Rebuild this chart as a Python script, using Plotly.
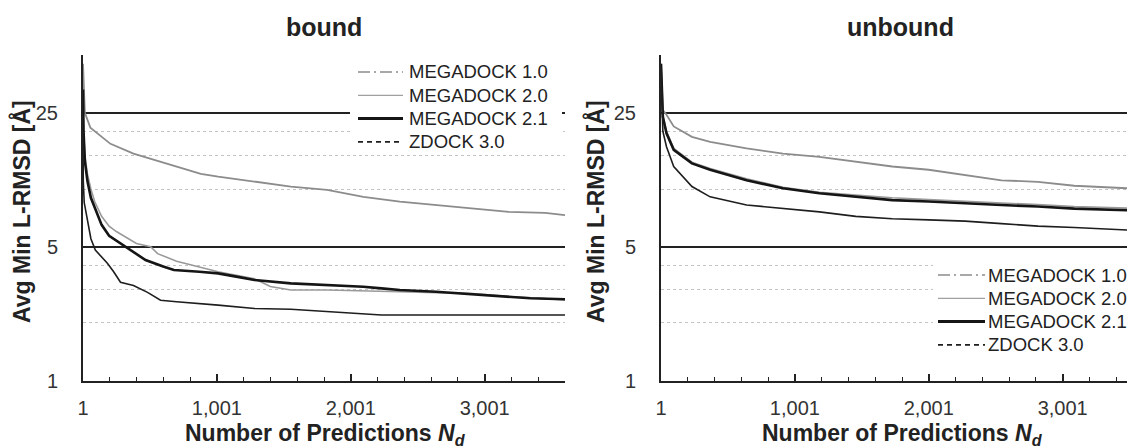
import math
import plotly.graph_objects as go

# ---------------- data ----------------
series_names = ["MEGADOCK 1.0", "MEGADOCK 2.0", "MEGADOCK 2.1", "ZDOCK 3.0"]
x_tick_vals = [1, 1001, 2001, 3001]
x_tick_text = ["1", "1,001", "2,001", "3,001"]
y_tick_vals = [1, 5, 25]
y_tick_text = ["1", "5", "25"]
y_minor_vals = [2, 3, 4, 10, 15, 20, 50]

# bound
b_m10_n = [1, 15, 56, 206, 378, 633, 881, 1010, 1282, 1553, 1824, 2095, 2367, 2638, 2909, 3181, 3452, 3601]
b_m10_v = [45, 25, 20.9, 17.2, 15.3, 13.5, 12.0, 11.6, 10.9, 10.3, 9.9, 9.1, 8.6, 8.25, 7.9, 7.6, 7.5, 7.3]
b_m20_n = [1, 5, 15, 34, 60, 88, 140, 196, 250, 303, 400, 506, 558, 700, 870, 1010, 1146, 1282, 1400, 1553, 1824, 2095, 2367, 2638, 2909, 3181, 3601]
b_m20_v = [32, 20, 15, 12, 10, 8.6, 7.2, 6.4, 6.0, 5.7, 5.2, 5.0, 4.6, 4.2, 3.9, 3.7, 3.55, 3.4, 3.1, 2.97, 2.97, 2.95, 2.91, 2.88, 2.85, 2.75, 2.64]
b_m21_n = [1, 5, 15, 34, 60, 88, 140, 196, 280, 332, 468, 600, 680, 870, 1010, 1146, 1282, 1553, 1824, 2095, 2230, 2367, 2638, 2800, 3045, 3343, 3601]
b_m21_v = [33, 20, 14, 11, 9.0, 8.0, 6.5, 5.7, 5.2, 4.9, 4.26, 3.94, 3.78, 3.7, 3.63, 3.49, 3.35, 3.22, 3.16, 3.09, 3.03, 2.97, 2.91, 2.86, 2.8, 2.69, 2.66]
b_zd_n = [1, 3, 10, 33, 60, 93, 183, 230, 281, 378, 483, 580, 700, 1010, 1282, 1553, 1824, 2095, 2230, 3601]
b_zd_v = [20, 11, 8.5, 6.8, 5.5, 4.8, 4.1, 3.7, 3.26, 3.14, 2.89, 2.63, 2.58, 2.48, 2.38, 2.36, 2.29, 2.24, 2.2, 2.2]

# unbound
u_n = [1, 15, 42, 96, 232, 368, 640, 912, 1184, 1456, 1728, 2000, 2272, 2544, 2816, 3088, 3601]
u_m10_v = [45, 25.8, 24.4, 21.2, 18.7, 17.6, 16.3, 15.3, 14.7, 13.9, 13.1, 12.6, 11.8, 11.1, 10.9, 10.4, 10.0]
u_m20_v = [44, 24, 20, 16.3, 13.8, 12.8, 11.3, 10.2, 9.6, 9.3, 9.0, 8.8, 8.6, 8.45, 8.3, 8.1, 7.9]
u_m21_v = [45, 23.8, 19.5, 16, 13.6, 12.6, 11.1, 10.1, 9.5, 9.1, 8.75, 8.6, 8.4, 8.25, 8.1, 7.9, 7.7]
u_zd_v = [42, 20, 16.6, 13.1, 10.3, 9.1, 8.25, 7.9, 7.6, 7.2, 7.0, 6.9, 6.8, 6.6, 6.4, 6.3, 6.05]

# ---------------- layout helpers ----------------
W, H = 1135, 447
OFF = 8  # page body margin: figure is drawn 8px right/down in the window

def px(x):  # window pixel x -> paper
    return (x - OFF) / W

def py(y):  # window pixel y -> paper
    return 1 - (y - OFF) / H

FONT = "Liberation Sans, Arial, sans-serif"
curve_style = {
    "MEGADOCK 1.0": dict(color="#8c8c8c", width=1.8),
    "MEGADOCK 2.0": dict(color="#9a9a9a", width=1.6),
    "MEGADOCK 2.1": dict(color="#151515", width=2.6),
    "ZDOCK 3.0": dict(color="#1e1e1e", width=1.6),
}
legend_style = {
    "MEGADOCK 1.0": dict(color="#8c8c8c", width=1.6, dash="12px,4px,2px,4px"),
    "MEGADOCK 2.0": dict(color="#a0a0a0", width=1.3),
    "MEGADOCK 2.1": dict(color="#151515", width=3),
    "ZDOCK 3.0": dict(color="#1e1e1e", width=1.6, dash="5px,4px"),
}

fig = go.Figure()
panels = [
    ("x", "y", [(b_m10_n, b_m10_v), (b_m20_n, b_m20_v), (b_m21_n, b_m21_v), (b_zd_n, b_zd_v)]),
    ("x2", "y2", [(u_n, u_m10_v), (u_n, u_m20_v), (u_n, u_m21_v), (u_n, u_zd_v)]),
]
for xa, ya, data in panels:
    for name, (n, v) in zip(series_names, data):
        fig.add_trace(go.Scatter(x=n, y=v, mode="lines", xaxis=xa, yaxis=ya, name=name,
                                 line=curve_style[name], showlegend=False, hoverinfo="skip"))

tickfont = dict(family=FONT, size=20, color="#333")

def xaxis_cfg(domain, rng, anchor):
    return dict(domain=domain, range=rng, tickmode="array", tickvals=x_tick_vals, ticktext=x_tick_text,
                ticks="inside", ticklen=7, tickwidth=1.5, tickcolor="#222", showgrid=False, zeroline=False,
                showline=True, linecolor="#222", linewidth=2, tickfont=tickfont, ticklabelstandoff=8,
                anchor=anchor, automargin=False,
                minor=dict(tickmode="linear", tick0=1, dtick=200, ticks="inside", ticklen=4,
                           tickwidth=1.2, tickcolor="#222", showgrid=False))

def yaxis_cfg(domain, anchor):
    return dict(domain=domain, type="log", range=[0, math.log10(50)], tickmode="array",
                tickvals=y_tick_vals, ticktext=y_tick_text, ticks="", showgrid=True, gridcolor="#222",
                gridwidth=1.8, zeroline=False, showline=True, linecolor="#222", linewidth=2,
                tickfont=tickfont, ticklabelstandoff=19, anchor=anchor, automargin=False,
                minor=dict(tickvals=y_minor_vals, showgrid=True, gridcolor="#c4c4c4", griddash="dot",
                           gridwidth=1, ticks=""))

yd = [py(380.7), py(55)]
fig.update_layout(
    width=W, height=H, margin=dict(l=0, r=0, t=0, b=0, pad=0, autoexpand=False),
    paper_bgcolor="white", plot_bgcolor="white", showlegend=False,
    xaxis=xaxis_cfg([px(83), px(565)], [1, 3601], "y"),
    yaxis=yaxis_cfg(yd, "x"),
    xaxis2=xaxis_cfg([px(661), 1.0], [1, 3601], "y2"),
    yaxis2=yaxis_cfg(yd, "x2"),
)

# ---------------- manual legends (box, line samples, labels) ----------------
shapes = []
ann = []
legend_boxes = [
    dict(box=(350, 562, 58, 154), sx=(358, 403), tx=408, row0=72),
    dict(box=(933, 1143, 262, 358), sx=(938, 985), tx=987, row0=275),
]
ROW = 23.3
for lb in legend_boxes:
    bx0, bx1, by0, by1 = lb["box"]
    shapes.append(dict(type="rect", xref="paper", yref="paper", x0=px(bx0), x1=px(bx1),
                       y0=py(by1), y1=py(by0), fillcolor="white", line=dict(width=0), layer="above"))
    for i, name in enumerate(series_names):
        yy = lb["row0"] + i * ROW
        shapes.append(dict(type="line", xref="paper", yref="paper", x0=px(lb["sx"][0]), x1=px(lb["sx"][1]),
                           y0=py(yy), y1=py(yy), line=legend_style[name], layer="above"))
        ann.append(dict(text=name, x=px(lb["tx"]), y=py(yy), xref="paper", yref="paper",
                        showarrow=False, xanchor="left", yanchor="middle", borderpad=0,
                        font=dict(family=FONT, size=18.5, color="#222")))

title_font = dict(family=FONT, size=25, color="#222")
axis_title_font = dict(family=FONT, size=23, color="#222")
ann.append(dict(text="<b>bound</b>", x=px(324), y=py(27), xref="paper", yref="paper",
                showarrow=False, font=title_font, xanchor="center", yanchor="middle"))
ann.append(dict(text="<b>unbound</b>", x=px(900), y=py(27), xref="paper", yref="paper",
                showarrow=False, font=title_font, xanchor="center", yanchor="middle"))
xtitle = "<b>Number of Predictions <i>N</i><sub><i>d</i></sub></b>"
ann.append(dict(text=xtitle, x=px(325), y=py(434), xref="paper", yref="paper", showarrow=False,
                font=axis_title_font, xanchor="center", yanchor="middle"))
ann.append(dict(text=xtitle, x=px(902), y=py(434), xref="paper", yref="paper", showarrow=False,
                font=axis_title_font, xanchor="center", yanchor="middle"))
ytitle = "<b>Avg Min L-RMSD [Å]</b>"
ann.append(dict(text=ytitle, x=px(21), y=py(212), xref="paper", yref="paper", showarrow=False,
                textangle=-90, font=axis_title_font, xanchor="center", yanchor="middle"))
ann.append(dict(text=ytitle, x=px(595), y=py(212), xref="paper", yref="paper", showarrow=False,
                textangle=-90, font=axis_title_font, xanchor="center", yanchor="middle"))
fig.update_layout(annotations=ann, shapes=shapes)

fig.write_html("out.html")
